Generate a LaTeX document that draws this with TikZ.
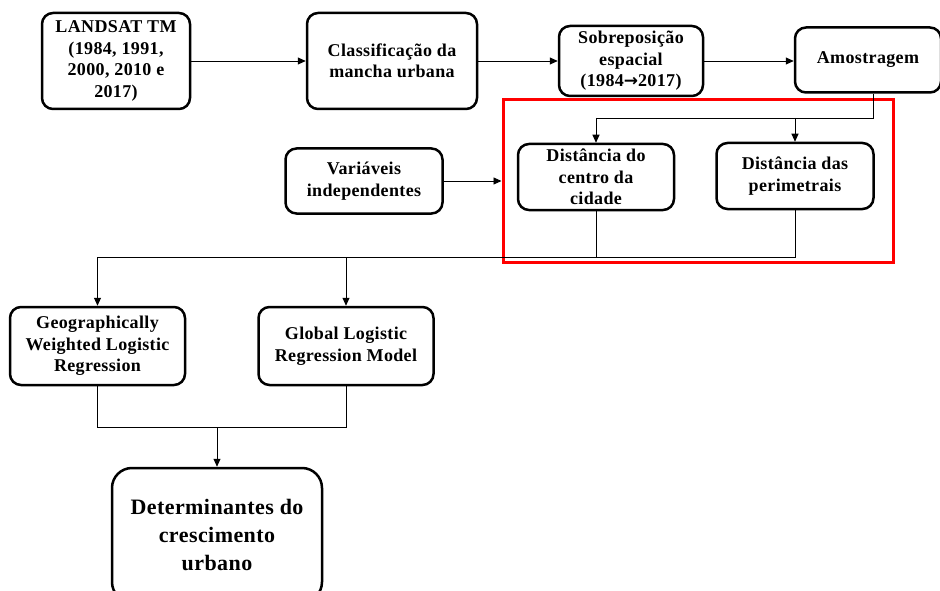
\documentclass[tikz,border=0pt]{standalone}
\usepackage{fontspec}
\setmainfont[LetterSpace=2]{Liberation Serif}
\newfontfamily\setas{DejaVu Sans}
\usetikzlibrary{arrows.meta,positioning}
\begin{document}
\begin{tikzpicture}[x=1pt,y=-1pt,
    caixa/.style={draw,line width=2.5pt,rounded corners=11pt,align=center,inner sep=0pt,
        font=\bfseries\fontsize{18}{21.5}\selectfont},
    liga/.style={line width=0.9pt},
    seta/.style={liga,-{Triangle[length=8pt,width=7pt]}}]
    \useasboundingbox (0,0) rectangle (940,591);
    % linha de cima
    \node [caixa,minimum width=148,minimum height=96] (landsat) at (116,61) {LANDSAT TM\\(1984, 1991,\\2000, 2010 e\\2017)};
    \node [caixa,minimum width=170,minimum height=96] (classif) at (392,61) {Classificação da\\mancha urbana};
    \node [caixa,minimum width=144,minimum height=70] (sobrep) at (631,61) {Sobreposição\\espacial\\(1984{\setas\bfseries\fontsize{17}{17}\selectfont→}2017)};
    \node [caixa,minimum width=146,minimum height=65] (amostr) at (868,60) {Amostragem};
    % distancias
    \node [caixa,minimum width=156,minimum height=66] (centro) at (596,177) {Distância do\\centro da\\cidade};
    \node [caixa,minimum width=157,minimum height=66] (perim) at (795,176) {Distância das\\perimetrais};
    \node [draw=red,line width=3pt,minimum width=390,minimum height=162,inner sep=0pt] (destaque) at (698,181) {};
    \node [caixa,minimum width=157,minimum height=65] (variav) at (364,181) {Variáveis\\independentes};
    % modelos
    \node [caixa,minimum width=175,minimum height=78] (gwlr) at (97.5,346) {Geographically\\Weighted Logistic\\Regression};
    \node [caixa,minimum width=175,minimum height=78] (glrm) at (346,346) {Global Logistic\\Regression Model};
    \node [caixa,rounded corners=20pt,minimum width=210,minimum height=134,
        font=\bfseries\fontsize{22}{28}\selectfont] (determ) at (217,535) {Determinantes do\\crescimento\\urbano};
    \coordinate (ramo) at (873,118);
    \coordinate (junta) at (0,257);
    \coordinate (une) at (0,427);
    \draw [seta](landsat)--(classif);
    \draw [seta](classif)--(sobrep);
    \draw [seta](sobrep.east)--(sobrep.east -| amostr.west);
    \draw [liga](amostr.south -| ramo)--(ramo)--(ramo -| centro);
    \draw [seta](ramo -| centro)--(centro.north);
    \draw [seta](ramo -| perim)--(perim.north);
    \draw [seta](variav.east)--(variav.east -| destaque.west);
    \draw [liga](centro.south)--(centro.south |- junta);
    \draw [liga](perim.south)--(perim.south |- junta)--(gwlr.north |- junta);
    \draw [seta](gwlr.north |- junta)--(gwlr.north);
    \draw [seta](glrm.north |- junta)--(glrm.north);
    \draw [liga](gwlr.south)--(gwlr.south |- une)--(glrm.south |- une)--(glrm.south);
    \draw [seta](determ.north |- une)--(determ.north);
\end{tikzpicture}
\end{document}
